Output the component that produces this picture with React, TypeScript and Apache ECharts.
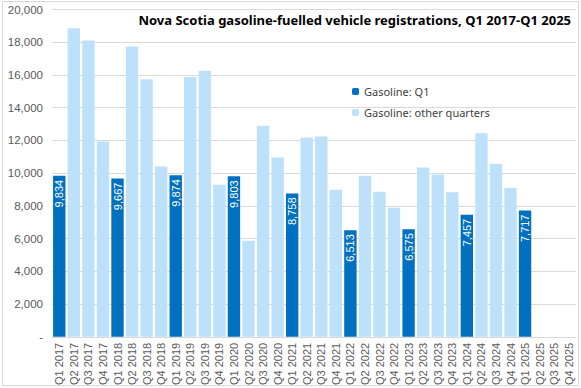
import React, { useEffect, useRef } from "react";
import * as echarts from "echarts";

const categories = [
  "Q1 2017","Q2 2017","Q3 2017","Q4 2017",
  "Q1 2018","Q2 2018","Q3 2018","Q4 2018",
  "Q1 2019","Q2 2019","Q3 2019","Q4 2019",
  "Q1 2020","Q2 2020","Q3 2020","Q4 2020",
  "Q1 2021","Q2 2021","Q3 2021","Q4 2021",
  "Q1 2022","Q2 2022","Q3 2022","Q4 2022",
  "Q1 2023","Q2 2023","Q3 2023","Q4 2023",
  "Q1 2024","Q2 2024","Q3 2024","Q4 2024",
  "Q1 2025","Q2 2025","Q3 2025","Q4 2025",
];

const q1Values = [
  9834, null, null, null,
  9667, null, null, null,
  9874, null, null, null,
  9803, null, null, null,
  8758, null, null, null,
  6513, null, null, null,
  6575, null, null, null,
  7457, null, null, null,
  7717, null, null, null,
];

const otherValues = [
  null, 18860, 18100, 11930,
  null, 17735, 15740, 10405,
  null, 15880, 16250, 9285,
  null, 5865, 12890, 10955,
  null, 12175, 12235, 8980,
  null, 9835, 8857, 7880,
  null, 10342, 9914, 8838,
  null, 12440, 10568, 9100,
  null, null, null, null,
];

export default function App() {
  const ref = useRef<HTMLDivElement>(null);
  useEffect(() => {
    if (!ref.current) return;
    const chart = echarts.init(ref.current, null, { renderer: "svg" });
    chart.setOption({
      animation: false,
      backgroundColor: "#ffffff",
      title: {
        text: "Nova Scotia gasoline-fuelled vehicle registrations, Q1 2017-Q1 2025",
        right: 5,
        top: 8,
        textStyle: { fontFamily: "Noto Sans", fontWeight: "bold", fontSize: 13, color: "#000000" },
      },
      legend: {
        orient: "vertical",
        left: 347,
        top: 81,
        itemWidth: 7,
        itemHeight: 7,
        itemGap: 10,
        textStyle: { fontFamily: "Noto Sans", fontSize: 11, color: "#404040" },
        data: ["Gasoline: Q1", "Gasoline: other quarters"],
      },
      grid: { left: 52, right: 5, top: 9.5, bottom: 51, containLabel: false },
      xAxis: {
        type: "category",
        data: categories,
        axisTick: { show: false },
        axisLine: { lineStyle: { color: "#d9d9d9", width: 1 } },
        axisLabel: {
          rotate: 90,
          interval: 0,
          fontFamily: "Liberation Sans",
          fontSize: 11,
          color: "#595959",
          margin: 6,
        },
      },
      yAxis: {
        type: "value",
        min: 0,
        max: 20000,
        interval: 2000,
        axisLine: { show: false },
        axisTick: { show: false },
        splitLine: { lineStyle: { color: "#d9d9d9", width: 1 } },
        axisLabel: {
          fontFamily: "Liberation Sans",
          fontSize: 11.5,
          color: "#595959",
          margin: 9,
          formatter: (v: number) => (v === 0 ? "-" : v.toLocaleString("en-US")),
        },
      },
      series: [
        {
          name: "Gasoline: Q1",
          type: "bar",
          stack: "s",
          data: q1Values,
          barCategoryGap: "15%",
          itemStyle: { color: "#0070C0" },
          label: {
            show: true,
            position: "insideTop",
            rotate: 90,
            align: "right",
            verticalAlign: "middle",
            distance: 4,
            color: "#ffffff",
            fontFamily: "Liberation Sans",
            fontSize: 11,
            formatter: (p: any) => Number(p.value).toLocaleString("en-US"),
          },
        },
        {
          name: "Gasoline: other quarters",
          type: "bar",
          stack: "s",
          data: otherValues,
          barCategoryGap: "15%",
          itemStyle: { color: "#BDE1FB" },
        },
      ],
      graphic: [
        {
          type: "rect",
          shape: { x: 2.5, y: 1.5, width: 576, height: 384 },
          style: { fill: "none", stroke: "#d9d9d9", lineWidth: 1 },
          silent: true,
        },
      ],
    });
    return () => chart.dispose();
  }, []);
  return (
    <div
      ref={ref}
      style={{ position: "fixed", left: 0, top: 0, width: 581, height: 388 }}
    />
  );
}
